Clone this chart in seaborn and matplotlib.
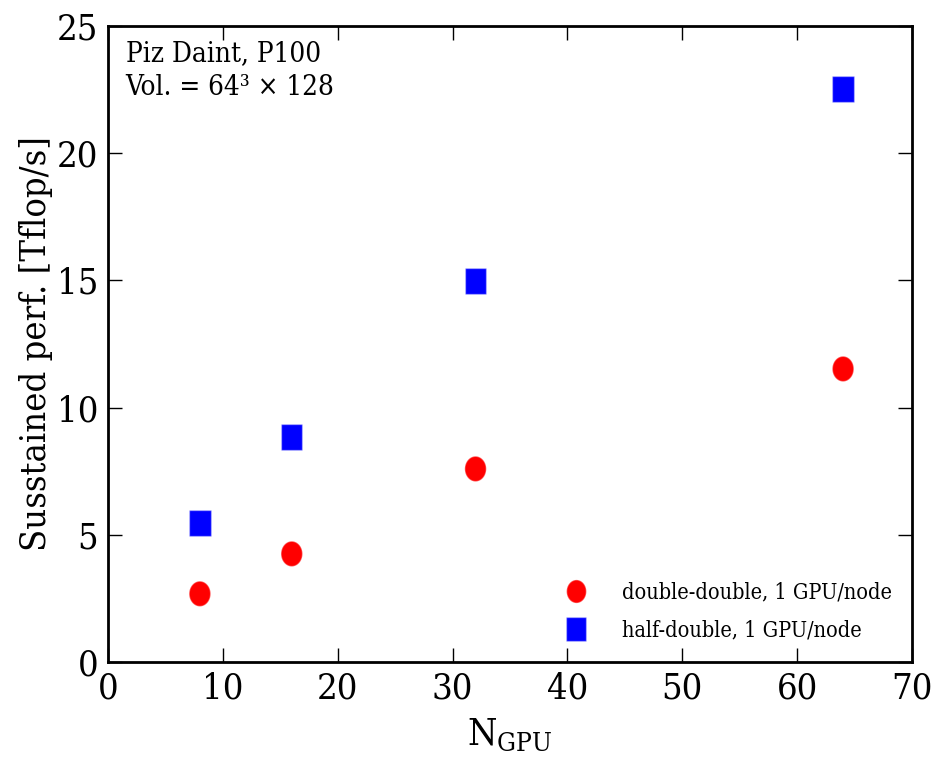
import numpy as np
import pandas as pd
import matplotlib
matplotlib.use("Agg")
import matplotlib.pyplot as plt
import seaborn as sns
from matplotlib.path import Path

n_gpu = [8, 16, 32, 64]
double_double = [2.68, 4.25, 7.59, 11.52]
half_double = [5.46, 8.84, 14.98, 22.52]
series_names = ["double-double, 1 GPU/node", "half-double, 1 GPU/node"]
x_ticks = [0, 10, 20, 30, 40, 50, 60, 70]
y_ticks = [0, 5, 10, 15, 20, 25]

sns.set_style("ticks")
plt.rcParams["font.family"] = ["DejaVu Serif", "Liberation Serif"]
plt.rcParams["font.stretch"] = "condensed"
plt.rcParams["mathtext.fontset"] = "custom"
plt.rcParams["mathtext.rm"] = "DejaVu Serif"
for k in ["text.color", "axes.labelcolor", "xtick.color", "ytick.color", "axes.edgecolor"]:
    plt.rcParams[k] = "black"

df = pd.DataFrame({
    "N": n_gpu * 2,
    "perf": double_double + half_double,
    "series": [series_names[0]] * 4 + [series_names[1]] * 4,
})

t = np.linspace(0, 2 * np.pi, 60)
ellipse = Path(np.column_stack([0.85 * np.cos(t), np.sin(t)]), closed=True)
rect = Path([(-0.85, -1), (0.85, -1), (0.85, 1), (-0.85, 1), (-0.85, -1)], closed=True)

fig = plt.figure(figsize=(9.48, 7.57), dpi=100)
ax = fig.add_axes([108 / 948, 1 - 662 / 757, (912 - 108) / 948, (662 - 26) / 757])

sns.scatterplot(data=df, x="N", y="perf", hue="series", style="series",
                palette={series_names[0]: "#ff0000", series_names[1]: "#0000ff"},
                markers={series_names[0]: ellipse, series_names[1]: rect},
                s=330, edgecolor=(1, 1, 1, 0.35), linewidth=1.0, ax=ax, legend=True)

ax.set_xlim(0, 70)
ax.set_ylim(0, 25)
ax.set_xticks(x_ticks)
ax.set_yticks(y_ticks)
ax.tick_params(direction="in", length=10, width=1, top=True, right=True,
               labelsize=26, pad=7)
for sp in ax.spines.values():
    sp.set_linewidth(2)
    sp.set_visible(True)

ax.set_xlabel(r"N$_{\mathrm{GPU}}$", fontsize=27, labelpad=8)
ax.set_ylabel("Susstained perf. [Tflop/s]", fontsize=26, labelpad=3)

ax.text(0.022, 0.978, "Piz Daint, P100\nVol. = 64³ × 128", transform=ax.transAxes,
        ha="left", va="top", fontsize=20, linespacing=1.35)

leg = ax.legend(loc="lower right", frameon=False, fontsize=15.5, markerscale=0.92,
                handletextpad=1.1, labelspacing=0.75, borderaxespad=0.55,
                bbox_to_anchor=(1.0, 0.0))

fig.savefig("out.png", dpi=100)
